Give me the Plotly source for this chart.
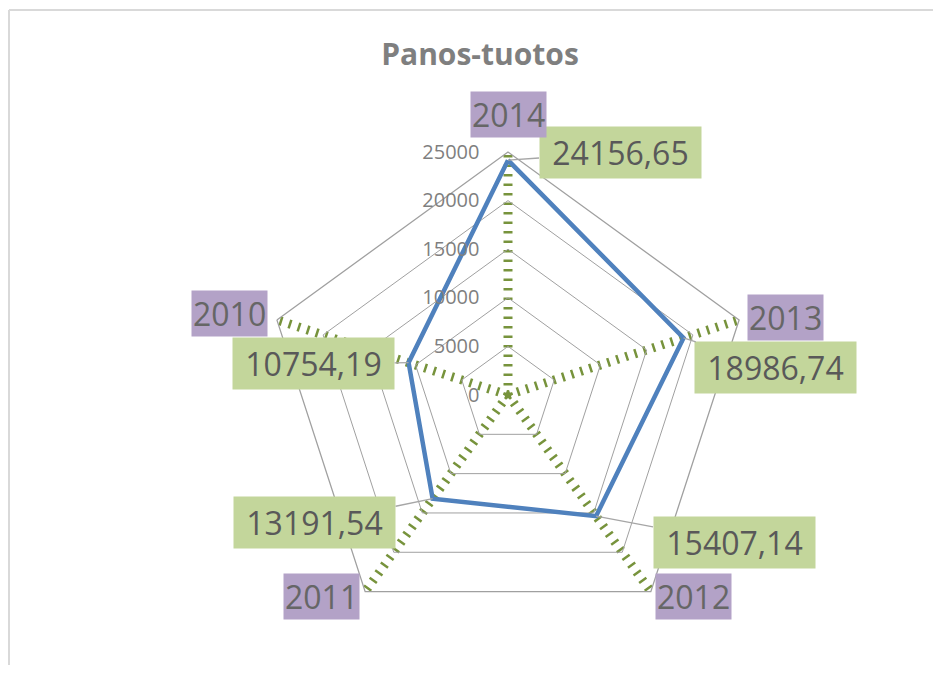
import numpy as np
import plotly.graph_objects as go

# ---- data ----
years = ["2014", "2013", "2012", "2011", "2010"]
values = [24156.65, 18986.74, 15407.14, 13191.54, 10754.19]
value_labels = ["24156,65", "18986,74", "15407,14", "13191,54", "10754,19"]
radial_ticks = [0, 5000, 10000, 15000, 20000, 25000]
radial_tick_text = ["0", "5000", "10000", "15000", "20000", "25000"]
title_text = "Panos-tuotos"

RMAX = 25000
OFF = 8  # page body margin offset
W, H = 941 - 2 * OFF, 677 - 2 * OFF - 4
FONT = "Open Sans"

# polar area (screen pixels): centre (508,395), radius 243
cx, cy, rad = 508 - OFF, 395 - OFF, 243
dom_x = [(cx - rad) / W, (cx + rad) / W]
dom_y = [1 - (cy + rad) / H, 1 - (cy - rad) / H]

# angles of categories (clockwise from top)
ang = np.deg2rad([90 - 72 * i for i in range(len(years))])
px_ = [v * np.cos(a) for v, a in zip(values, ang)]
py_ = [v * np.sin(a) for v, a in zip(values, ang)]
cat_x = [RMAX * np.cos(a) for a in ang]
cat_y = [RMAX * np.sin(a) for a in ang]

fig = go.Figure()
fig.add_trace(go.Scatterpolar(
    r=values + [values[0]], theta=years + [years[0]],
    mode="lines", line=dict(color="#4F81BD", width=4.5),
    subplot="polar", hoverinfo="skip", showlegend=False))

# invisible overlay trace to establish cartesian axes matching the polar scale
fig.add_trace(go.Scatter(x=px_, y=py_, mode="markers",
                         marker=dict(opacity=0), hoverinfo="skip",
                         showlegend=False, xaxis="x", yaxis="y"))

# label placement offsets (pixels)
data_label_offsets = [(112, -8), (92, 30), (138, 26), (-118, 24), (-95, 1)]
cat_label_shifts = [(0, 38), (46, 2), (43, -5), (-44, -5), (-47, 6)]

annotations = []
nb = "\u00a0"
for i in range(len(years)):
    annotations.append(dict(
        x=px_[i], y=py_[i], xref="x", yref="y",
        text=nb + value_labels[i] + nb, showarrow=True, arrowhead=0,
        arrowwidth=1.3, arrowcolor="#A6A6A6", standoff=0,
        ax=data_label_offsets[i][0], ay=data_label_offsets[i][1],
        bgcolor="#C3D69B", borderpad=4,
        font=dict(family=FONT, size=32, color="#595959")))
    annotations.append(dict(
        x=cat_x[i], y=cat_y[i], xref="x", yref="y",
        text=years[i], showarrow=False,
        xanchor="center", yanchor="middle",
        xshift=cat_label_shifts[i][0], yshift=cat_label_shifts[i][1],
        bgcolor="#B3A2C7", borderpad=1,
        font=dict(family=FONT, size=32, color="#666666")))

top = 1 - (10 - OFF) / H   # border top (paper)
left = 1 / W               # border left (paper)
border = dict(color="#D9D9D9", width=2)

fig.update_layout(
    width=W, height=H,
    margin=dict(l=0, r=0, t=0, b=0),
    paper_bgcolor="white", plot_bgcolor="rgba(0,0,0,0)",
    showlegend=False,
    title=dict(text="<b>" + title_text + "</b>", x=(480 - OFF) / W, xanchor="center",
               y=1 - (54 - OFF) / H, yanchor="middle",
               font=dict(family=FONT, size=30, color="#7F7F7F")),
    polar=dict(
        domain=dict(x=dom_x, y=dom_y),
        bgcolor="rgba(0,0,0,0)",
        gridshape="linear",
        radialaxis=dict(range=[0, RMAX], tickvals=radial_ticks,
                        ticktext=radial_tick_text, angle=90, tickangle=90,
                        side="counterclockwise", showline=False,
                        gridcolor="#A0A0A0", gridwidth=1.3,
                        ticks="outside", ticklen=21,
                        tickcolor="rgba(0,0,0,0)",
                        tickfont=dict(family=FONT, size=20, color="#7F7F7F")),
        angularaxis=dict(rotation=90, direction="clockwise",
                         showticklabels=False, ticks="",
                         showline=True, linecolor="#A0A0A0", linewidth=1.3,
                         gridcolor="#77933C", gridwidth=9,
                         griddash="2.5px,7px"),
    ),
    xaxis=dict(domain=dom_x, range=[-RMAX, RMAX], visible=False, fixedrange=True),
    yaxis=dict(domain=dom_y, range=[-RMAX, RMAX], visible=False, fixedrange=True),
    annotations=annotations,
    shapes=[
        dict(type="line", xref="paper", yref="paper", x0=left, x1=left,
             y0=0, y1=top, line=border, layer="below"),
        dict(type="line", xref="paper", yref="paper", x0=left, x1=1.0,
             y0=top, y1=top, line=border, layer="below"),
    ],
)

fig.write_html("out.html")
